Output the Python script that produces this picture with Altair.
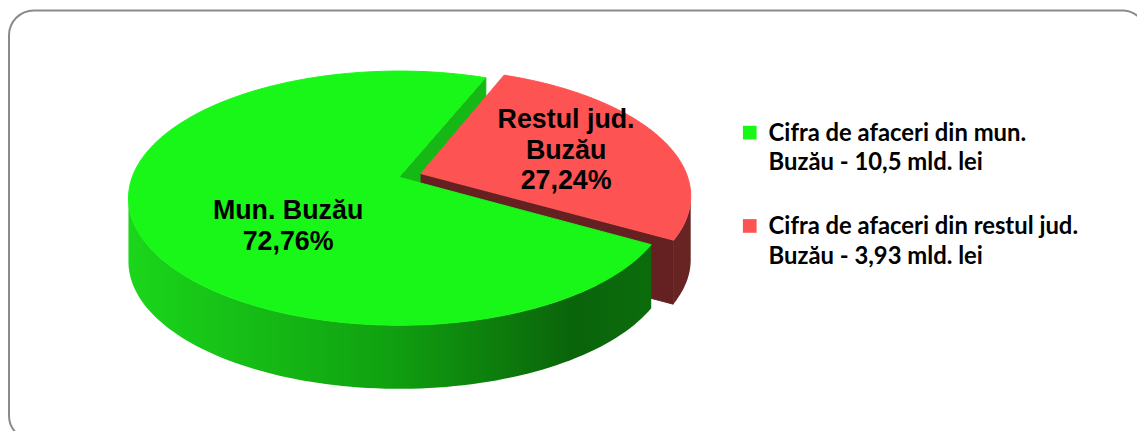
import math
import altair as alt
import pandas as pd

# ---------------- data ----------------
categories = ["Mun. Buzău", "Restul jud. Buzău"]
slice_names = ["Mun. Buzău", "Restul jud.\nBuzău"]
shares_pct = [72.76, 27.24]
turnover_mld_lei = [10.5, 3.93]
legend_prefix = ["Cifra de afaceri din mun.\nBuzău", "Cifra de afaceri din restul jud.\nBuzău"]


def ro_num(v, nd=None):
    s = (f"{v:.{nd}f}" if nd is not None else f"{v:g}")
    return s.replace(".", ",")


df = pd.DataFrame({
    "idx": list(range(len(categories))),
    "cat": categories,
    "share": shares_pct,
    "label": [f"{n}\n{ro_num(s, 2)}%" for n, s in zip(slice_names, shares_pct)],
    "legend": [f"{p} - {ro_num(v)} mld. lei" for p, v in zip(legend_prefix, turnover_mld_lei)],
})

# ---------------- styling / geometry ----------------
TOP_COLORS = ["#19f719", "#fe5353"]
CUT_COLORS = ["#15b815", "#652121"]
SIDE_FILLS = [
    alt.Gradient(gradient="linear", x1=0, y1=0, x2=1, y2=0, stops=[
        alt.GradientStop(offset=0, color="#1bd61b"),
        alt.GradientStop(offset=0.5, color="#10a010"),
        alt.GradientStop(offset=0.85, color="#0a640a"),
        alt.GradientStop(offset=1, color="#0c6c0c"),
    ]),
    "#682323",
]

W, H = 1137, 423
CX, CY, A, B, P, DEPTH = 394, 190, 269, 128, -0.164, 64
START = 120
N = 90
V0 = math.degrees(math.acos(P))
V1 = 360 - V0
EXPLODE_EXPR = "datum.idx == 1 ? 0.085 : 0"
LABEL_LH = 31
LEGEND_LH = 30


def px(u, v):
    return f"{CX} + {A}*({u})/(1 + ({P})*({v}))"


def py(u, v, z):
    return f"{CY} + {B}*(({v}) + ({P}))/(1 + ({P})*({v})) + {DEPTH}*({z})"


xs = alt.Scale(domain=[0, W], nice=False, zero=False)
ys = alt.Scale(domain=[0, H], nice=False, zero=False, reverse=True)
X = alt.X("px:Q", scale=xs, axis=None)
Y = alt.Y("py:Q", scale=ys, axis=None)

base = (
    alt.Chart(df)
    .transform_window(cum="sum(share)", sort=[alt.SortField("idx")], frame=[None, 0])
    .transform_joinaggregate(total="sum(share)")
    .transform_calculate(
        a0=f"{START} + 360*(datum.cum - datum.share)/datum.total",
        a1=f"{START} + 360*datum.cum/datum.total",
        mid="(datum.a0 + datum.a1)/2",
        ex=EXPLODE_EXPR,
        du="datum.ex*sin(datum.mid*PI/180)",
        dv="-datum.ex*cos(datum.mid*PI/180)",
    )
)


def top_face(i):
    c = TOP_COLORS[i]
    return (
        base.transform_filter(f"datum.idx == {i}")
        .transform_calculate(k=f"sequence(0, {N + 2})")
        .transform_flatten(["k"])
        .transform_calculate(
            t=f"(datum.a0 + (datum.a1 - datum.a0)*(datum.k - 1)/{N})*PI/180",
            u="datum.k == 0 ? datum.du : datum.du + sin(datum.t)",
            v="datum.k == 0 ? datum.dv : datum.dv - cos(datum.t)",
        )
        .transform_calculate(px=px("datum.u", "datum.v"), py=py("datum.u", "datum.v", "0"))
        .mark_line(fill=c, stroke=c, strokeWidth=1)
        .encode(x=X, y=Y, order=alt.Order("k:Q"))
    )


def side_face(i):
    return (
        base.transform_filter(f"datum.idx == {i}")
        .transform_calculate(sh=f"datum.a1 > {V0 + 360} ? 360 : 0")
        .transform_calculate(s=f"max(datum.a0, {V0} + datum.sh)", e=f"min(datum.a1, {V1} + datum.sh)")
        .transform_filter("datum.e > datum.s")
        .transform_calculate(k=f"sequence(0, {2 * N + 2})")
        .transform_flatten(["k"])
        .transform_calculate(
            t=(f"(datum.k <= {N} ? datum.s + (datum.e - datum.s)*datum.k/{N} "
               f": datum.e - (datum.e - datum.s)*(datum.k - {N + 1})/{N})*PI/180"),
            z=f"datum.k <= {N} ? 0 : 1",
        )
        .transform_calculate(u="datum.du + sin(datum.t)", v="datum.dv - cos(datum.t)")
        .transform_calculate(px=px("datum.u", "datum.v"), py=py("datum.u", "datum.v", "datum.z"))
        .mark_line(fill=SIDE_FILLS[i], strokeWidth=0)
        .encode(x=X, y=Y, order=alt.Order("k:Q"))
    )


def cut_face(i):
    c = CUT_COLORS[i]
    return (
        base.transform_filter(f"datum.idx == {i}")
        .transform_calculate(k="sequence(0, 4)")
        .transform_flatten(["k"])
        .transform_calculate(
            rr="(datum.k == 1 || datum.k == 2) ? 1 : 0",
            z="datum.k >= 2 ? 1 : 0",
        )
        .transform_calculate(
            u="datum.du + datum.rr*sin(datum.a1*PI/180)",
            v="datum.dv - datum.rr*cos(datum.a1*PI/180)",
        )
        .transform_calculate(px=px("datum.u", "datum.v"), py=py("datum.u", "datum.v", "datum.z"))
        .mark_line(fill=c, stroke=c, strokeWidth=1)
        .encode(x=X, y=Y, order=alt.Order("k:Q"))
    )


labels = (
    base.transform_calculate(lr="datum.idx == 0 ? 0.43 : 0.6",
                             nl="length(split(datum.label, '\\n'))")
    .transform_calculate(
        lu="datum.du + datum.lr*sin(datum.mid*PI/180)",
        lv="datum.dv - datum.lr*cos(datum.mid*PI/180)",
    )
    .transform_calculate(px=px("datum.lu", "datum.lv"),
                         pyc=py("datum.lu", "datum.lv", "datum.idx == 0 ? 0.5 : 0"))
    .transform_calculate(py=f"datum.pyc - (datum.nl - 1)*{LABEL_LH}/2")
    .mark_text(font="Liberation Sans", fontSize=27, fontWeight="bold", lineBreak="\n",
               lineHeight=LABEL_LH, align="center", baseline="middle", color="#000000")
    .encode(x=X, y=Y, text="label:N")
)

legend_color = alt.Color("cat:N", scale=alt.Scale(domain=categories, range=TOP_COLORS), legend=None)
legend_sq = (
    alt.Chart(df)
    .transform_calculate(px="747", py="124 + datum.idx*94")
    .mark_square(size=190, filled=True, opacity=1)
    .encode(x=X, y=Y, color=legend_color)
)
legend_txt = (
    alt.Chart(df)
    .transform_calculate(px="766", py="125 + datum.idx*94")
    .mark_text(font="Lato", fontSize=24, fontWeight="bold", lineBreak="\n", lineHeight=LEGEND_LH,
               align="left", baseline="middle", color="#000000")
    .encode(x=X, y=Y, text="legend:N")
)

frame = (
    alt.Chart(pd.DataFrame({"f": [1]}))
    .mark_rect(cornerRadius=25, fill="#ffffff", fillOpacity=0, stroke="#8a8a8a", strokeWidth=2)
    .encode(x=alt.value(1), x2=alt.value(1147), y=alt.value(1), y2=alt.value(434))
)

chart = alt.layer(
    frame,
    cut_face(0),
    cut_face(1),
    side_face(1),
    top_face(1),
    side_face(0),
    top_face(0),
    labels,
    legend_sq,
    legend_txt,
).properties(
    width=W, height=H, padding=0, autosize=alt.AutoSizeParams(type="none"), background="#ffffff"
).configure_view(stroke=None)

chart.save("out.html", embed_options={"renderer": "svg", "actions": False})
